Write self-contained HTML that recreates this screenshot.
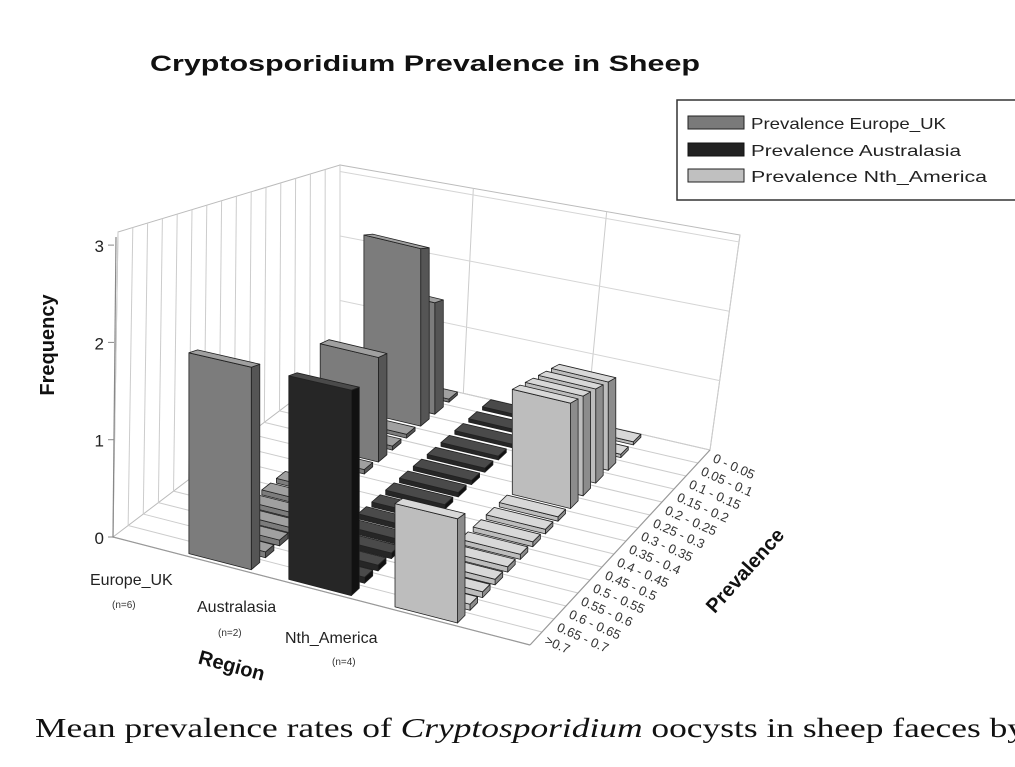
<!DOCTYPE html>
<html><head><meta charset="utf-8"><style>
body{margin:0;background:#fff;width:1015px;height:767px;overflow:hidden}
svg{position:absolute;left:0;top:0}
.t{font-family:"Liberation Sans",sans-serif}
</style></head><body>
<svg id="chart" width="1015" height="767">
<text class="t" x="150" y="71" font-size="22" font-weight="bold" textLength="550" lengthAdjust="spacingAndGlyphs" fill="#111">Cryptosporidium Prevalence in Sheep</text>
<g>
<rect x="677" y="100" width="340" height="100" fill="#fff" stroke="#333" stroke-width="1.5"/>
<rect x="688" y="116" width="56" height="13" fill="#7a7a7a" stroke="#222"/>
<text class="t" x="751" y="129" font-size="16" textLength="195" lengthAdjust="spacingAndGlyphs" fill="#222">Prevalence Europe_UK</text>
<rect x="688" y="143" width="56" height="13" fill="#222" stroke="#111"/>
<text class="t" x="751" y="156" font-size="16" textLength="210" lengthAdjust="spacingAndGlyphs" fill="#222">Prevalence Australasia</text>
<rect x="688" y="169" width="56" height="13" fill="#c0c0c0" stroke="#222"/>
<text class="t" x="751" y="182" font-size="16" textLength="236" lengthAdjust="spacingAndGlyphs" fill="#222">Prevalence Nth_America</text>
</g>
<g id="frame"></g>
<g id="bars"></g>
<g id="labels"></g>
<text class="t" transform="translate(54,345) rotate(-90)" font-size="20" font-weight="bold" text-anchor="middle" fill="#111">Frequency</text>
<text class="t" transform="translate(230,672) rotate(15)" font-size="20" font-weight="bold" text-anchor="middle" fill="#111">Region</text>
<text class="t" transform="translate(750,575) rotate(-48)" font-size="20" font-weight="bold" text-anchor="middle" fill="#111">Prevalence</text>
<text x="35" y="737" font-family="'Liberation Serif',serif" font-size="27" textLength="990" lengthAdjust="spacingAndGlyphs" fill="#111">Mean prevalence rates of <tspan font-style="italic">Cryptosporidium</tspan> oocysts in sheep faeces by</text>
</svg>
<script>
const regions = ["Europe_UK","Australasia","Nth_America"];
const regionN = ["(n=6)","(n=2)","(n=4)"];
const bins = ["0 - 0.05","0.05 - 0.1","0.1 - 0.15","0.15 - 0.2","0.2 - 0.25","0.25 - 0.3","0.3 - 0.35","0.35 - 0.4","0.4 - 0.45","0.45 - 0.5","0.5 - 0.55","0.55 - 0.6","0.6 - 0.65","0.65 - 0.7",">0.7"];
const europeVals = [0,2,3,0,0,1.5,0,0,0,0,0,0,0,0,2];
const australasiaVals = [0,0,0,0,0,0,0,0,0,0,0,0,0,0,2];
const nthAmericaVals = [0,0,1.5,1.5,1.5,1.5,0,0,0,0,0,0,0,0,1];
const yTicks = [0,1,2,3];

const NS="http://www.w3.org/2000/svg";
const A=[113,537],B=[530,645],C=[710,450],D=[340,365];
const hA=100,hB=106,hC=48,hD=50;
function floor(s,t){
  const fx=A[0]+s*(B[0]-A[0]), fy=A[1]+s*(B[1]-A[1]);
  const bx=D[0]+s*(C[0]-D[0]), by=D[1]+s*(C[1]-D[1]);
  return [fx+t*(bx-fx), fy+t*(by-fy)];
}
function hs(s,t){return (1-t)*((1-s)*hA+s*hB)+t*((1-s)*hD+s*hC);}
function P(s,t,z){const p=floor(s,t);return [p[0],p[1]-z*hs(s,t)];}
function el(tag,attrs,parent){const e=document.createElementNS(NS,tag);for(const k in attrs)e.setAttribute(k,attrs[k]);parent.appendChild(e);return e;}
function pts(a){return a.map(p=>p[0].toFixed(1)+","+p[1].toFixed(1)).join(" ");}
const sCenter=[0.25,0.49,0.745];
function tOf(i){return (bins.length-1-i+0.5)/bins.length;}

const fr=document.getElementById('frame');
const zTop=3.1;
const Atop=[118,232],Dtop=[340,165],Ctop=[740,235];
let w=el('polygon',{points:pts([A,D,Dtop,Atop]),fill:"#fff",stroke:"#bbb","stroke-width":1},fr);


w=el('polygon',{points:pts([D,C,Ctop,Dtop]),fill:"#fff",stroke:"#bbb","stroke-width":1},fr);


for(let i=0;i<=bins.length;i++){
  const t=i/bins.length;
  const b=[A[0]+t*(D[0]-A[0]),A[1]+t*(D[1]-A[1])];
  const tp=[Atop[0]+t*(Dtop[0]-Atop[0]),Atop[1]+t*(Dtop[1]-Atop[1])];
  const l=el('line',{x1:b[0],y1:b[1],x2:tp[0],y2:tp[1],stroke:"#ccc","stroke-width":1},fr);
  
  
  const f1=floor(0,t),f2=floor(1,t);
  const fl=el('line',{x1:f1[0],y1:f1[1],x2:f2[0],y2:f2[1],stroke:"#ccc","stroke-width":1},fr);
  
  
}
for(let i=0;i<=3;i++){
  const s=i/3;
  const b=[D[0]+s*(C[0]-D[0]),D[1]+s*(C[1]-D[1])];
  const tp=[Dtop[0]+s*(Ctop[0]-Dtop[0]),Dtop[1]+s*(Ctop[1]-Dtop[1])];
  const l=el('line',{x1:b[0],y1:b[1],x2:tp[0],y2:tp[1],stroke:"#ccc","stroke-width":1},fr);
  
  
}
yTicks.forEach(v=>{
  if(v===0)return;
  const p1=[D[0],D[1]-v*(D[1]-Dtop[1])/zTop],p2=[C[0]+v*(Ctop[0]-C[0])/zTop,C[1]-v*(C[1]-Ctop[1])/zTop];
  const l=el('line',{x1:p1[0],y1:p1[1],x2:p2[0],y2:p2[1],stroke:"#d5d5d5","stroke-width":1},fr);
  
  
});
let fe=el('line',{x1:A[0],y1:A[1],x2:B[0],y2:B[1],stroke:"#999","stroke-width":1.2},fr);


fe=el('line',{x1:B[0],y1:B[1],x2:C[0],y2:C[1],stroke:"#999","stroke-width":1.2},fr);


let ya=el('line',{x1:113,y1:537,x2:116,y2:237,stroke:"#888","stroke-width":1.2},fr);



const lab=document.getElementById('labels');
yTicks.forEach(v=>{
  const y=537-v*97.3;
  const tx=el('text',{x:104,y:y+7,"font-size":17,"text-anchor":"end",fill:"#222",class:"t"},lab);
  tx.textContent=v;
  
  
  const tk=el('line',{x1:108,y1:y,x2:114,y2:y,stroke:"#888"},lab);
  
  
});
const regLab=[[90,585],[197,612],[285,643]];
const nLab=[[112,608],[218,636],[332,665]];
regions.forEach((r,i)=>{
  const tx=el('text',{x:regLab[i][0],y:regLab[i][1],"font-size":16,fill:"#222",class:"t"},lab);
  tx.textContent=r;
  
  
  const n=el('text',{x:nLab[i][0],y:nLab[i][1],"font-size":10,fill:"#333",class:"t"},lab);
  n.textContent=regionN[i];
  
  
});
bins.forEach((b,i)=>{
  const p=floor(1,tOf(i));
  const tx=el('text',{transform:`translate(${p[0]+8},${p[1]+5}) rotate(24)`,"font-size":13,fill:"#333",class:"t"},lab);
  tx.textContent=b;
  
  
});

const series=[
 {vals:europeVals,front:"#7c7c7c",side:"#555",top:"#a0a0a0",name:"europe"},
 {vals:australasiaVals,front:"#262626",side:"#111",top:"#4a4a4a",name:"australasia"},
 {vals:nthAmericaVals,front:"#bdbdbd",side:"#8c8c8c",top:"#d8d8d8",name:"nth-america"}];
const items=[];
series.forEach((se,r)=>{se.vals.forEach((v,i)=>{items.push({r,i,v,se,key:-tOf(i)+sCenter[r]*0.6});});});
items.sort((a,b)=>a.key-b.key);
const g=document.getElementById('bars');
const hw=0.075,hd=0.3/bins.length;
items.forEach(it=>{
  const s0=sCenter[it.r]-hw,s1=sCenter[it.r]+hw,tc=tOf(it.i),t0=tc-hd,t1=tc+hd;
  const z=it.v>0?it.v:0.06;
  const grp=el('g',{},g);
  
  
  const st={stroke:"#222","stroke-width":0.8,"stroke-linejoin":"round"};
  el('polygon',Object.assign({points:pts([P(s1,t0,0),P(s1,t1,0),P(s1,t1,z),P(s1,t0,z)]),fill:it.se.side},st),grp);
  el('polygon',Object.assign({points:pts([P(s0,t0,0),P(s1,t0,0),P(s1,t0,z),P(s0,t0,z)]),fill:it.se.front},st),grp);
  el('polygon',Object.assign({points:pts([P(s0,t0,z),P(s1,t0,z),P(s1,t1,z),P(s0,t1,z)]),fill:it.se.top},st),grp);
});
</script>
</body></html>
